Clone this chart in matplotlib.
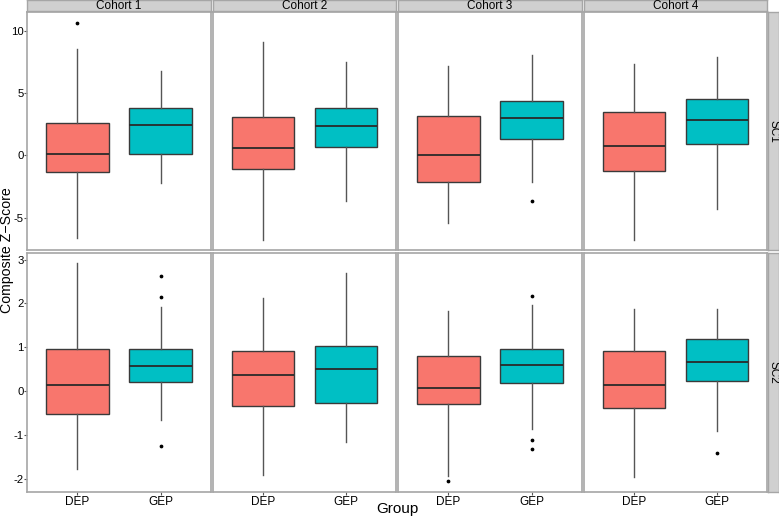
import matplotlib
matplotlib.use("Agg")
import matplotlib.pyplot as plt

plt.rcParams['font.family'] = ['Liberation Sans', 'DejaVu Sans']
plt.rcParams['axes.unicode_minus'] = False

cohorts = ["Cohort 1", "Cohort 2", "Cohort 3", "Cohort 4"]
groups = ["DEP", "GEP"]
scales = ["SC1", "SC2"]

# SC1 statistics per cohort: [DEP, GEP]
sc1_whislo = [[-6.6, -2.22], [-6.8, -3.7], [-5.43, -2.14], [-6.82, -4.31]]
sc1_q1     = [[-1.34, 0.13], [-1.1, 0.67], [-2.14, 1.31], [-1.23, 0.88]]
sc1_med    = [[0.13, 2.46], [0.59, 2.35], [0.05, 2.97], [0.72, 2.86]]
sc1_q3     = [[2.62, 3.8], [3.1, 3.8], [3.13, 4.36], [3.5, 4.55]]
sc1_whishi = [[8.56, 6.77], [9.1, 7.46], [7.17, 8.03], [7.36, 7.89]]
sc1_fliers = [[[10.6], []], [[], []], [[], [-3.67]], [[], []]]

# SC2 statistics per cohort: [DEP, GEP]
sc2_whislo = [[-1.78, -0.66], [-1.92, -1.16], [-1.93, -0.87], [-1.95, -0.91]]
sc2_q1     = [[-0.52, 0.2], [-0.33, -0.26], [-0.29, 0.19], [-0.38, 0.22]]
sc2_med    = [[0.14, 0.58], [0.37, 0.5], [0.07, 0.6], [0.14, 0.66]]
sc2_q3     = [[0.95, 0.95], [0.92, 1.03], [0.81, 0.95], [0.91, 1.18]]
sc2_whishi = [[2.92, 1.91], [2.12, 2.7], [1.83, 1.96], [1.87, 1.87]]
sc2_fliers = [[[], [2.63, 2.15, -1.25]], [[], []], [[-2.05], [2.18, -1.12, -1.33]], [[], [-1.41]]]

sc1_ticks = [-5, 0, 5, 10]
sc2_ticks = [-2, -1, 0, 1, 2, 3]
sc1_lim = (-7.6, 11.5)
sc2_lim = (-2.3, 3.15)

fill_colors = ["#F8766D", "#00BFC4"]

W, H = 779, 518
fig = plt.figure(figsize=(W / 100, H / 100), dpi=100)

col_x = [(27, 211), (213, 396), (398, 582), (584, 767)]
row_y = [(12, 250), (253, 492)]

def fx(px):
    return px / W

def fy(py):
    return 1 - py / H

border_col = "#a6a6a6"
strip_col = "#d0d0d0"

data_sets = [
    (sc1_whislo, sc1_q1, sc1_med, sc1_q3, sc1_whishi, sc1_fliers, sc1_ticks, sc1_lim),
    (sc2_whislo, sc2_q1, sc2_med, sc2_q3, sc2_whishi, sc2_fliers, sc2_ticks, sc2_lim),
]

for r, (wlo, q1, med, q3, whi, fl, ticks, lim) in enumerate(data_sets):
    y0, y1 = row_y[r]
    for c in range(4):
        x0, x1 = col_x[c]
        ax = fig.add_axes([fx(x0), fy(y1), fx(x1 - x0), (y1 - y0) / H])
        stats = []
        for g in range(2):
            stats.append(dict(whislo=wlo[c][g], q1=q1[c][g], med=med[c][g],
                              q3=q3[c][g], whishi=whi[c][g], fliers=fl[c][g],
                              label=groups[g]))
        bp = ax.bxp(stats, positions=[1, 2], widths=0.75, patch_artist=True,
                    showcaps=False,
                    boxprops=dict(edgecolor="#3a3a3a", linewidth=1.0),
                    medianprops=dict(color="#2a2a2a", linewidth=1.3),
                    whiskerprops=dict(color="#555555", linewidth=1.0),
                    flierprops=dict(marker="o", markersize=1.7, markerfacecolor="black",
                                    markeredgecolor="black", linestyle="none"))
        for patch, col in zip(bp["boxes"], fill_colors):
            patch.set_facecolor(col)
        ax.set_xlim(0.4, 2.6)
        ax.set_ylim(*lim)
        ax.set_facecolor("white")
        for sp in ax.spines.values():
            sp.set_color(border_col)
            sp.set_linewidth(1.2)
        ax.tick_params(axis="x", length=2, width=0.8, color="#555555",
                       labelsize=8.5, pad=1.0)
        ax.tick_params(axis="y", length=2, width=0.8, color="#555555",
                       labelsize=8.2, pad=0.3)
        ax.set_yticks(ticks)
        if c == 0:
            ax.set_yticklabels([str(t) for t in ticks])
        else:
            ax.tick_params(axis="y", length=0, labelleft=False)
        if r == 1:
            ax.set_xticks([1, 2])
            ax.set_xticklabels(groups)
        else:
            ax.set_xticks([])
        # top strips
        if r == 0:
            sax = fig.add_axes([fx(x0), fy(11), fx(x1 - x0), 11 / H])
            sax.set_facecolor(strip_col)
            sax.set_xticks([]); sax.set_yticks([])
            for sp in sax.spines.values():
                sp.set_color(border_col)
                sp.set_linewidth(1.0)
            sax.text(0.5, 0.45, cohorts[c], ha="center", va="center",
                     fontsize=8.5, transform=sax.transAxes)
    # right strips
    rax = fig.add_axes([fx(768), fy(y1), fx(11), (y1 - y0) / H])
    rax.set_facecolor(strip_col)
    rax.set_xticks([]); rax.set_yticks([])
    for sp in rax.spines.values():
        sp.set_color(border_col)
        sp.set_linewidth(1.0)
    rax.text(0.5, 0.5, scales[r], ha="center", va="center", rotation=-90,
             fontsize=8.5, transform=rax.transAxes)

fig.text(fx(397), fy(509), "Group", ha="center", va="center", fontsize=11)
fig.text(0.0, fy(250), "Composite Z\u2212Score", ha="left", va="center",
         rotation=90, fontsize=10.2)

fig.savefig("out.png", dpi=100)
